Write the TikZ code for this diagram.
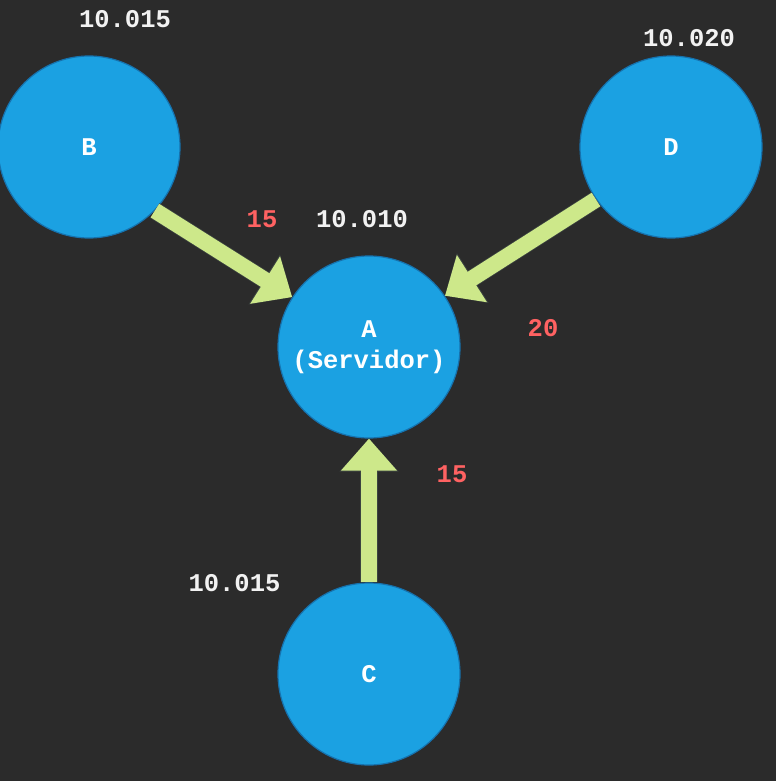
\documentclass[tikz,border=0pt]{standalone}
\usepackage{fontspec}
\setmonofont{Liberation Mono}
\usetikzlibrary{arrows.meta}
\definecolor{bgc}{HTML}{2B2B2B}
\definecolor{nodefill}{HTML}{1BA1E2}
\definecolor{nodeedge}{HTML}{1672AE}
\definecolor{arrowc}{HTML}{CDE88A}
\definecolor{arrowedge}{HTML}{3C4440}
\definecolor{weightc}{HTML}{FF6262}
\definecolor{labelc}{HTML}{F2F2F2}
\tikzset{
  server/.style={circle, minimum size=182pt, inner sep=0pt, fill=nodefill, draw=nodeedge, line width=1.2pt,
    text=white, font=\ttfamily\bfseries\fontsize{25.5}{31}\selectfont, align=center},
  clock/.style={text=labelc, font=\ttfamily\bfseries\fontsize{25.5}{28}\selectfont, inner sep=0pt},
  weight/.style={text=weightc, font=\ttfamily\bfseries\fontsize{25.5}{28}\selectfont, inner sep=0pt},
  flow/.style={arrowc, line width=16pt, -{Triangle[length=32pt,width=54pt]},
    preaction={draw=arrowedge, line width=17.5pt, -{Triangle[length=33pt,width=57pt]}}}
}
\begin{document}
\begin{tikzpicture}[x=1pt,y=-1pt]
\fill[bgc] (0,0) rectangle (776,781);
\useasboundingbox (0,0) rectangle (776,781);
\node[server] (A) at (369,347) {A\\(Servidor)};
\node[server] (B) at (89,147) {B};
\node[server] (D) at (671,147) {D};
\node[server] (C) at (369,674) {C};
\draw[flow] (B.-44) -- (A.147);
\draw[flow] (D.215) -- (A.34);
\draw[flow] (C.north) -- (A.south);
\node[clock] (tB) at (125,19) {10.015};
\node[clock] (tD) at (689,38) {10.020};
\node[clock] (tA) at (362,219) {10.010};
\node[clock] (tC) at (234.5,583) {10.015};
\node[weight] (wB) at (262,219) {15};
\node[weight] (wD) at (543,328) {20};
\node[weight] (wC) at (452,474) {15};
\end{tikzpicture}
\end{document}
